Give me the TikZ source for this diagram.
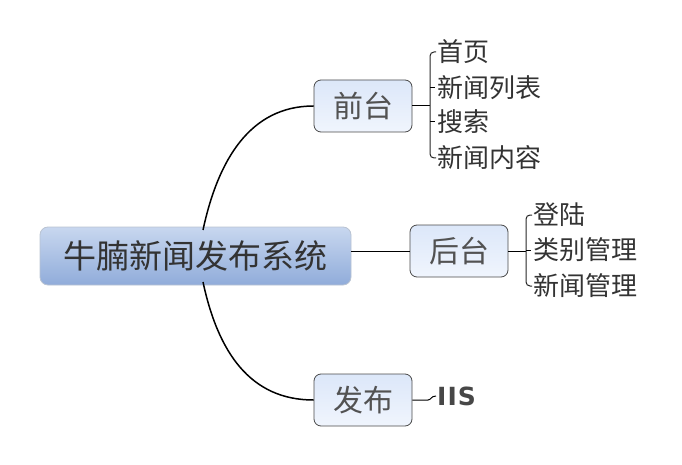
\documentclass[tikz,border=0pt]{standalone}
\usepackage{fontspec}
\setmainfont{Noto Sans CJK SC}
\newfontfamily\latinbold[LetterSpace=4]{DejaVu Sans}
\definecolor{txt}{HTML}{333333}
\definecolor{roottop}{HTML}{C8D7EF}
\definecolor{rootbot}{HTML}{90ACDA}
\definecolor{rootline}{HTML}{B9C3D2}
\definecolor{boxtop}{HTML}{DCE7F9}
\definecolor{boxbot}{HTML}{F0F5FD}
\definecolor{boxline}{HTML}{4A4A4A}
\tikzset{
  rootbox/.style={rounded corners=8pt, draw=rootline, line width=0.8pt, top color=roottop, bottom color=rootbot,
    minimum width=311pt, minimum height=58pt, inner sep=0pt, font=\fontsize{33}{33}\selectfont, text=txt,
    text height=29pt, text depth=4pt},
  subbox/.style={rounded corners=7pt, draw=boxline, line width=0.8pt, top color=boxtop, bottom color=boxbot,
    minimum width=98pt, minimum height=52pt, inner sep=0pt, font=\fontsize{30}{30}\selectfont, text=txt!85,
    text height=26.4pt, text depth=3.6pt},
  leaf/.style={anchor=west, inner sep=0pt, font=\fontsize{26}{26}\selectfont, text=txt,
    text height=22.9pt, text depth=3.1pt},
  conn/.style={line width=1.5pt, black},
  thinline/.style={line width=1pt, black},
  brace/.style={line width=1pt, black!85, rounded corners=4pt},
}
\begin{document}
\begin{tikzpicture}[x=1pt,y=-1pt]
\useasboundingbox (0,0) rectangle (682,465);
\coordinate (rtop) at (203,230);
\coordinate (rbot) at (203,282);
\node[rootbox] (root) at (195.5,256) {牛腩新闻发布系统};
\node[subbox] (front) at (363,106) {前台};
\node[subbox] (back) at (459,251) {后台};
\node[subbox] (pub) at (363,400) {发布};
\draw[conn] (rtop) .. controls (218,160) and (250,106) .. (front.west);
\draw[conn] (rbot) .. controls (218,352) and (250,400) .. (pub.west);
\draw[thinline] (root.east |- back.west) -- (back.west);
% front leaves
\node[leaf] (f1) at (437,52) {首页};
\node[leaf] (f2) at (437,88) {新闻列表};
\node[leaf] (f3) at (437,122) {搜索};
\node[leaf] (f4) at (437,158) {新闻内容};
\coordinate (fb) at (430,106);
\draw[thinline] (front.east) -- (fb);
\draw[brace] ([xshift=-1pt]f1.west) -- (f1.west -| fb) -- (f4.west -| fb) -- ([xshift=-1pt]f4.west);
\draw[thinline] (f2.west -| fb) -- ([xshift=-2pt]f2.west);
\draw[thinline] (f3.west -| fb) -- ([xshift=-2pt]f3.west);
% back leaves
\node[leaf] (b1) at (533,215) {登陆};
\node[leaf] (b2) at (533,250) {类别管理};
\node[leaf] (b3) at (533,286) {新闻管理};
\coordinate (bb) at (526,251);
\draw[thinline] (back.east) -- (bb);
\draw[brace] ([xshift=-1pt]b1.west) -- (b1.west -| bb) -- (b3.west -| bb) -- ([xshift=-1pt]b3.west);
\draw[thinline] (b2.west -| bb) -- ([xshift=-2pt]b2.west);
% publish leaf
\node[anchor=west, inner sep=0pt, font=\latinbold\bfseries\fontsize{25}{25}\selectfont, text=txt!90,
  text height=18pt, text depth=0pt] (iis) at (437,396) {IIS};
\coordinate (ib) at (428,400);
\draw[thinline] (pub.east) -- (ib) .. controls (431,400) and (431,396) .. ([xshift=-1pt]iis.west);
\end{tikzpicture}
\end{document}
